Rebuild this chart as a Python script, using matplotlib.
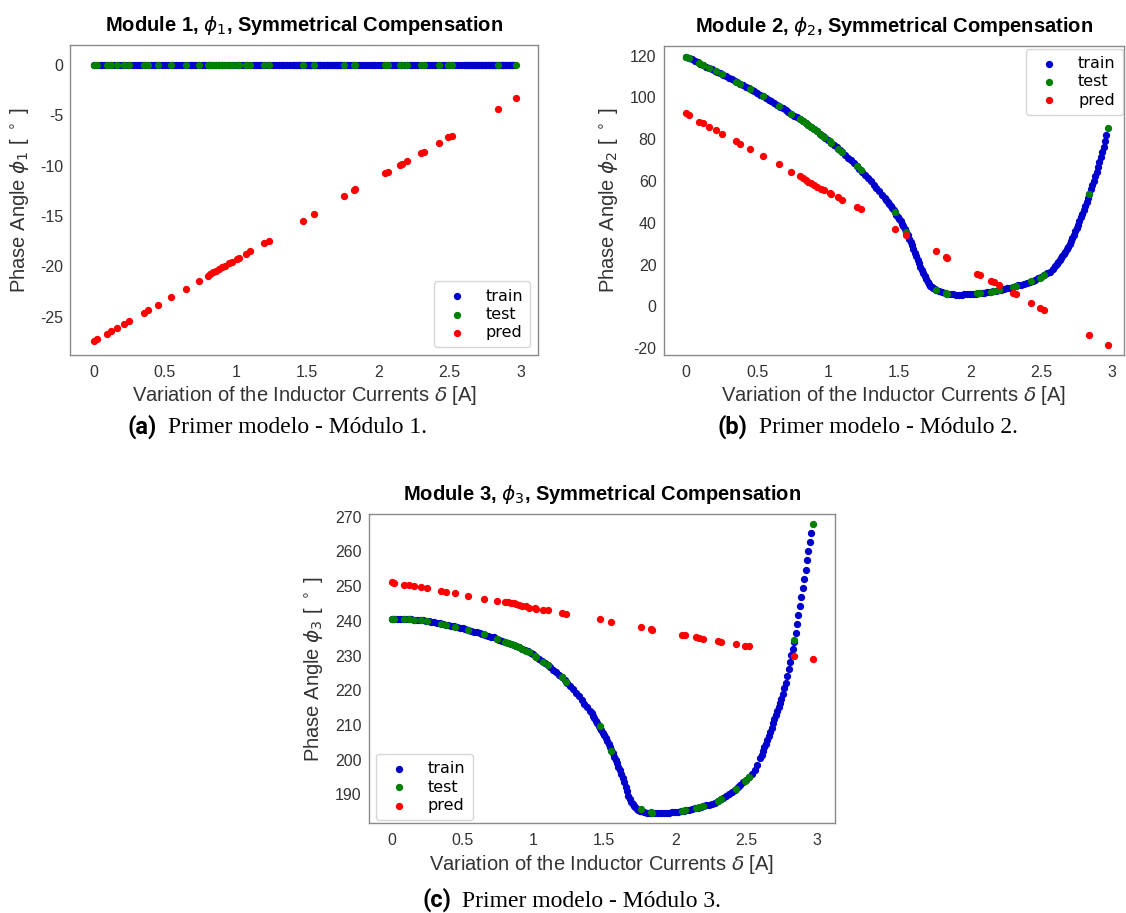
import matplotlib
matplotlib.use('Agg')
import matplotlib.pyplot as plt
from matplotlib.ticker import FuncFormatter

# train samples (same delta grid for all three modules)
delta_train = [
    0.00, 0.02, 0.04, 0.06, 0.08, 0.10, 0.12, 0.14, 0.16, 0.18,
    0.20, 0.22, 0.24, 0.26, 0.28, 0.30, 0.32, 0.34, 0.36, 0.38,
    0.40, 0.42, 0.44, 0.46, 0.48, 0.50, 0.52, 0.54, 0.56, 0.58,
    0.60, 0.62, 0.64, 0.66, 0.68, 0.70, 0.72, 0.74, 0.76, 0.78,
    0.80, 0.82, 0.84, 0.86, 0.88, 0.90, 0.92, 0.94, 0.96, 0.98,
    1.00, 1.02, 1.04, 1.06, 1.08, 1.10, 1.12, 1.14, 1.16, 1.18,
    1.20, 1.22, 1.24, 1.26, 1.28, 1.30, 1.32, 1.34, 1.36, 1.38,
    1.40,
    1.41, 1.42, 1.43, 1.44, 1.45, 1.46, 1.47, 1.48, 1.49, 1.50,
    1.51, 1.52, 1.53, 1.54, 1.55, 1.56, 1.57, 1.58, 1.59, 1.60,
    1.61, 1.62, 1.63, 1.64, 1.65, 1.66, 1.67, 1.68, 1.69, 1.70,
    1.71, 1.72, 1.73, 1.74, 1.75, 1.76,
    1.78, 1.80, 1.82, 1.84, 1.86, 1.88, 1.90, 1.92, 1.94, 1.96,
    1.98, 2.00, 2.02, 2.04, 2.06, 2.08, 2.10, 2.12, 2.14, 2.16,
    2.18, 2.20, 2.22, 2.24, 2.26, 2.28, 2.30, 2.32, 2.34, 2.36,
    2.38, 2.40, 2.42, 2.44, 2.46, 2.48, 2.50, 2.52, 2.54, 2.56,
    2.58, 2.60,
    2.61, 2.62, 2.63, 2.64, 2.65, 2.66, 2.67, 2.68, 2.69, 2.70,
    2.71, 2.72, 2.73, 2.74, 2.75, 2.76, 2.77, 2.78, 2.79, 2.80,
    2.81, 2.82, 2.83, 2.84, 2.85, 2.86, 2.87, 2.88, 2.89, 2.90,
    2.91, 2.92, 2.93, 2.94, 2.95, 2.96]

phi1_train = [0.0] * len(delta_train)

phi2_train = [
    119.5, 118.9, 118.2, 117.6, 116.9, 116.2, 115.5, 114.8, 114.2, 113.5,
    112.8, 112.1, 111.5, 110.8, 110.1, 109.4, 108.7, 108.0, 107.3, 106.5,
    105.8, 105.1, 104.4, 103.7, 102.9, 102.2, 101.4, 100.6, 99.8, 99.0,
    98.2, 97.4, 96.5, 95.6, 94.8, 93.9, 93.0, 92.2, 91.3, 90.5,
    89.6, 88.7, 87.7, 86.8, 85.8, 84.8, 83.8, 82.7, 81.6, 80.6,
    79.5, 78.4, 77.2, 76.1, 74.9, 73.7, 72.5, 71.2, 69.9, 68.6,
    67.3, 65.9, 64.4, 62.9, 61.4, 59.9, 58.3, 56.7, 55.1, 53.5,
    51.8,
    51.0, 50.1, 49.1, 48.0, 47.0, 46.0, 45.0, 44.0, 43.0, 42.0,
    40.8, 39.6, 38.3, 36.9, 35.5, 34.0, 32.5, 30.9, 29.2, 27.5,
    25.8, 24.1, 22.4, 20.7, 19.0, 17.4, 15.9, 14.5, 13.1, 11.8,
    10.8, 10.0, 9.3, 8.8, 8.3, 7.9,
    7.3, 6.8, 6.4, 6.1, 5.9, 5.8, 5.7, 5.7, 5.7, 5.8,
    5.8, 5.9, 6.0, 6.2, 6.3, 6.5, 6.6, 6.8, 7.0, 7.3,
    7.5, 7.8, 8.1, 8.4, 8.7, 9.0, 9.3, 9.7, 10.1, 10.5,
    10.9, 11.3, 11.8, 12.4, 12.9, 13.5, 14.2, 15.0, 15.8, 16.7,
    17.9, 19.3,
    20.3, 21.2, 22.1, 23.0, 24.0, 25.1, 26.2, 27.4, 28.7, 30.0,
    31.4, 32.8, 34.3, 35.9, 37.5, 39.2, 40.9, 42.6, 44.3, 46.0,
    48.0, 50.0, 52.0, 54.0, 56.0, 58.1, 60.2, 62.3, 64.4, 66.5,
    69.0, 71.5, 74.0, 76.5, 79.0, 82.0]

phi3_train = [
    240.5, 240.5, 240.5, 240.5, 240.5, 240.5, 240.4, 240.4, 240.3, 240.2,
    240.2, 240.1, 240.0, 239.9, 239.8, 239.6, 239.5, 239.3, 239.1, 238.9,
    238.8, 238.6, 238.4, 238.2, 238.0, 237.8, 237.6, 237.4, 237.1, 236.9,
    236.7, 236.4, 236.2, 236.0, 235.7, 235.4, 235.2, 234.9, 234.6, 234.3,
    234.0, 233.7, 233.4, 233.1, 232.8, 232.4, 232.0, 231.6, 231.2, 230.8,
    230.3, 229.7, 229.1, 228.5, 227.9, 227.3, 226.6, 225.9, 225.2, 224.5,
    223.8, 222.9, 222.0, 221.1, 220.2, 219.3, 218.2, 217.2, 216.1, 215.1,
    214.0,
    213.3, 212.6, 211.9, 211.2, 210.5, 209.8, 209.1, 208.4, 207.7, 207.0,
    206.2, 205.3, 204.5, 203.6, 202.7, 201.8, 200.8, 199.8, 198.9, 197.9,
    196.9, 195.8, 194.6, 193.4, 192.1, 190.8, 189.6, 188.6, 187.8, 187.1,
    186.6, 186.2, 185.8, 185.5, 185.3, 185.1,
    184.9, 184.7, 184.6, 184.5, 184.5, 184.5, 184.5, 184.6, 184.6, 184.7,
    184.8, 184.9, 185.0, 185.1, 185.2, 185.4, 185.5, 185.7, 185.9, 186.1,
    186.3, 186.5, 186.8, 187.0, 187.3, 187.6, 188.0, 188.5, 189.0, 189.5,
    190.1, 190.7, 191.3, 192.0, 192.7, 193.4, 194.2, 195.1, 195.9, 197.0,
    198.5, 200.3,
    201.3, 202.4, 203.5, 204.6, 205.7, 206.9, 208.0, 209.2, 210.4, 211.6,
    212.8, 214.0, 215.2, 216.4, 217.6, 219.0, 220.5, 222.1, 224.1, 226.2,
    228.2, 230.1, 232.0, 234.0, 236.6, 239.2, 241.8, 244.4, 247.0, 249.6,
    252.2, 254.8, 257.4, 260.0, 262.6, 265.2]

# test samples and model predictions at the same delta values
delta_test = [
    0.00, 0.02, 0.09, 0.12, 0.16, 0.21, 0.25, 0.35, 0.38, 0.45,
    0.54, 0.65, 0.74, 0.80, 0.82, 0.84, 0.86, 0.88, 0.90, 0.92,
    0.95, 0.97, 1.01, 1.02, 1.07, 1.10, 1.20, 1.23, 1.47, 1.55,
    1.76, 1.83, 1.84, 2.05, 2.07, 2.15, 2.17, 2.20, 2.30, 2.32,
    2.43, 2.49, 2.52, 2.84, 2.97]

phi1_test = [0.0] * len(delta_test)
phi1_pred = [
    -27.4, -27.2, -26.7, -26.4, -26.1, -25.7, -25.4, -24.6, -24.3, -23.8,
    -23.0, -22.2, -21.4, -21.0, -20.8, -20.6, -20.5, -20.3, -20.1, -20.0,
    -19.7, -19.6, -19.3, -19.2, -18.8, -18.5, -17.7, -17.5, -15.5, -14.8,
    -13.0, -12.4, -12.3, -10.7, -10.6, -9.9, -9.8, -9.5, -8.7, -8.6,
    -7.7, -7.1, -7.0, -4.4, -3.3]

phi2_test = [
    119.5, 118.9, 116.6, 115.5, 114.2, 112.5, 111.2, 107.6, 106.5, 104.0,
    100.6, 96.1, 92.2, 89.6, 88.7, 87.7, 86.8, 85.8, 84.8, 83.8,
    82.2, 81.1, 79.0, 78.4, 75.5, 73.7, 67.3, 65.2, 45.0, 35.5,
    7.9, 6.3, 6.1, 6.3, 6.4, 7.1, 7.4, 7.8, 9.3, 9.7,
    12.1, 13.8, 15.0, 54.0, 85.5]
phi2_pred = [
    92.5, 91.5, 88.5, 87.7, 85.8, 84.5, 82.6, 79.2, 77.6, 75.3,
    72.1, 68.1, 64.3, 62.2, 61.4, 60.6, 59.8, 59.0, 58.2, 57.4,
    56.4, 55.8, 54.4, 53.8, 52.3, 51.0, 47.5, 46.6, 37.2, 34.3,
    26.6, 23.9, 23.4, 15.6, 15.2, 12.4, 11.7, 10.1, 6.4, 6.1,
    1.6, -0.5, -1.6, -13.5, -18.3]

phi3_test = [
    240.5, 240.5, 240.5, 240.4, 240.3, 240.1, 240.0, 239.2, 238.9, 238.3,
    237.4, 236.1, 234.9, 234.0, 233.7, 233.4, 233.1, 232.8, 232.4, 232.0,
    231.4, 231.0, 230.0, 229.7, 228.2, 227.3, 223.8, 222.5, 209.6, 202.5,
    185.6, 184.8, 184.6, 185.3, 185.4, 186.0, 186.2, 186.5, 188.0, 188.5,
    191.6, 193.8, 195.1, 234.4, 268.0]
phi3_pred = [
    251.1, 251.0, 250.3, 250.2, 249.9, 249.7, 249.4, 248.7, 248.4, 247.9,
    247.1, 246.3, 245.6, 245.4, 245.3, 245.2, 245.0, 244.8, 244.6, 244.4,
    244.2, 243.8, 243.7, 243.5, 243.2, 243.1, 242.4, 242.0, 240.4, 239.7,
    238.2, 237.6, 237.4, 236.0, 235.9, 235.3, 235.1, 234.9, 234.3, 234.0,
    233.3, 232.7, 232.6, 230.0, 228.9]

x_ticks = [0, 0.5, 1, 1.5, 2, 2.5, 3]

plt.rcParams['font.family'] = ['Liberation Sans', 'DejaVu Sans']
plt.rcParams['mathtext.fontset'] = 'dejavusans'
plt.rcParams['axes.unicode_minus'] = False

fig = plt.figure(figsize=(11.26, 9.13), dpi=100)


def panel(rect, n, phi_train, phi_test, phi_pred, xlim, ylim, yticks,
          leg_loc, leg_anchor, ylab_x):
    ax = fig.add_axes(rect)
    ax.scatter(delta_train, phi_train, s=18, c='#0000cc', label='train')
    ax.scatter(delta_test, phi_test, s=18, c='#007f00', label='test')
    ax.scatter(delta_test, phi_pred, s=18, c='#ff0000', label='pred')
    ax.set_xlim(xlim)
    ax.set_ylim(ylim)
    ax.set_xticks(x_ticks)
    ax.set_yticks(yticks)
    ax.xaxis.set_major_formatter(FuncFormatter(lambda v, p: '%g' % v))
    ax.yaxis.set_major_formatter(FuncFormatter(lambda v, p: '%g' % v))
    ax.tick_params(axis='both', length=0, labelsize=11.5, colors='#333333')
    ax.tick_params(axis='x', pad=7)
    ax.tick_params(axis='y', pad=5)
    for sp in ax.spines.values():
        sp.set_color('#8a8a8a')
        sp.set_linewidth(1.0)
    ax.set_title('Module %d, $\\phi_%d$, Symmetrical Compensation' % (n, n),
                 fontsize=14.5, fontweight='bold', pad=10)
    ax.set_xlabel('Variation of the Inductor Currents $\\delta$ [A]',
                  fontsize=14.5, color='#333333')
    ax.set_ylabel('Phase Angle $\\phi_%d$ [ $^\\circ$ ]' % n,
                  fontsize=14.5, color='#333333')
    ax.xaxis.set_label_coords(0.5, -0.095)
    ax.yaxis.set_label_coords(ylab_x, 0.5)
    ax.legend(loc=leg_loc, bbox_to_anchor=leg_anchor, borderaxespad=0,
              prop={'family': 'DejaVu Sans', 'size': 11.5},
              labelspacing=0.2, borderpad=0.45, edgecolor='#cccccc')
    return ax


panel([0.0625, 0.6112, 0.4155, 0.3395], 1, phi1_train, phi1_test, phi1_pred,
      (-0.165, 3.125), (-28.8, 2.0), [0, -5, -10, -15, -20, -25],
      'lower right', (0.983, 0.025), -0.084)
panel([0.5893, 0.6112, 0.4091, 0.3388], 2, phi2_train, phi2_test, phi2_pred,
      (-0.16, 3.085), (-23.2, 124.8), [-20, 0, 20, 40, 60, 80, 100, 120],
      'upper right', (0.997, 0.989), -0.095)
panel([0.3273, 0.0982, 0.4143, 0.3388], 3, phi3_train, phi3_test, phi3_pred,
      (-0.163, 3.128), (181.6, 270.8), [190, 200, 210, 220, 230, 240, 250, 260, 270],
      'lower left', (0.016, 0.011), -0.093)

# sub-figure captions
captions = [('(a)', 'Primer modelo - Módulo 1.', 0.1128, 0.1492, 0.5254),
            ('(b)', 'Primer modelo - Módulo 2.', 0.6368, 0.6737, 0.5254),
            ('(c)', 'Primer modelo - Módulo 3.', 0.3753, 0.4103, 0.0069)]
for tag, txt, xt, xc, yc in captions:
    fig.text(xt, yc, tag, fontfamily='Roboto', fontweight='bold', fontsize=17,
             ha='left', va='baseline')
    fig.text(xc, yc, txt, fontfamily='Liberation Serif', fontsize=17,
             ha='left', va='baseline')

fig.savefig('out.png', dpi=100)
